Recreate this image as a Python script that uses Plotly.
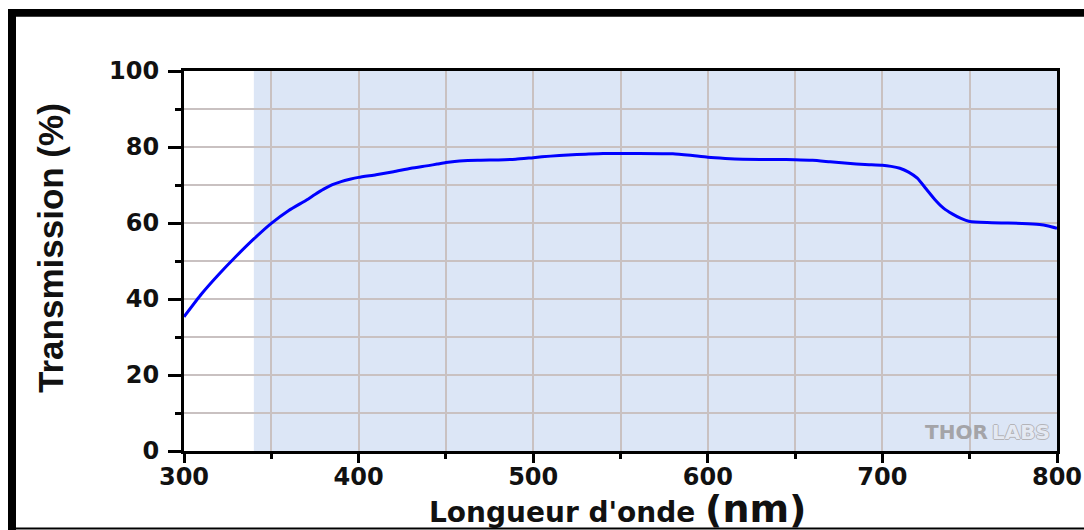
import plotly.graph_objects as go

# Transmission spectrum (wavelength in nm, transmission in %)
wavelength_nm = [300, 310, 320, 330, 340, 350, 360, 370, 375, 380, 385, 390, 395, 400, 410,
                 420, 430, 440, 445, 450, 455, 460, 470, 480, 490, 500, 510, 520, 530, 540,
                 560, 580, 590, 600, 610, 620, 640, 650, 660, 670, 680, 690, 700, 705, 710,
                 715, 720, 725, 730, 735, 740, 745, 750, 760, 770, 780, 790, 795, 800]
transmission_pct = [35.3, 41.3, 46.5, 51.3, 55.8, 59.9, 63.3, 66.0, 67.5, 68.9, 70.1, 70.9,
                    71.5, 72.0, 72.7, 73.5, 74.4, 75.1, 75.5, 75.9, 76.2, 76.4, 76.5, 76.6,
                    76.8, 77.2, 77.6, 77.9, 78.1, 78.3, 78.3, 78.2, 77.8, 77.3, 77.0, 76.8,
                    76.7, 76.65, 76.5, 76.1, 75.7, 75.4, 75.2, 74.9, 74.4, 73.4, 71.8, 69.0,
                    66.2, 63.9, 62.4, 61.2, 60.4, 60.1, 60.0, 59.9, 59.6, 59.2, 58.6]

# Design wavelength band (shaded)
band_nm = [340, 800]

x_ticks = [300, 400, 500, 600, 700, 800]
y_ticks = [0, 20, 40, 60, 80, 100]

W_FIG, H_FIG = 1084, 530
L, R, T, B = 184, 1057, 71, 451          # plot area in pixels


def px_x(p):
    return (p - L) / (R - L)


def px_y(p):
    return (B - p) / (B - T)


TICK_FONT = dict(family="DejaVu Sans", size=24, color="#111111", weight="bold")
GRID = "#c9c1c1"

fig = go.Figure()
fig.add_trace(go.Scatter(
    x=wavelength_nm, y=transmission_pct, mode="lines",
    line=dict(color="#0000ff", width=3, shape="spline", smoothing=0.5),
    hoverinfo="skip", showlegend=False,
))

shapes = [
    # shaded band
    dict(type="rect", xref="x", yref="y", x0=band_nm[0], x1=band_nm[1], y0=0, y1=100,
         fillcolor="#dce6f6", line=dict(width=0), layer="below"),
    # outer frame
    dict(type="rect", xref="paper", yref="paper", x0=px_x(8), x1=px_x(1095),
         y0=px_y(9), y1=px_y(16.7), fillcolor="black", line=dict(width=0)),
    dict(type="rect", xref="paper", yref="paper", x0=px_x(8), x1=px_x(16),
         y0=px_y(9), y1=px_y(540), fillcolor="black", line=dict(width=0)),
    dict(type="rect", xref="paper", yref="paper", x0=px_x(8), x1=px_x(1095),
         y0=px_y(527.5), y1=px_y(529.5), fillcolor="black", line=dict(width=0)),
]

annotations = [
    dict(text="Transmission (%)", xref="paper", yref="paper",
         x=px_x(50), y=px_y(248), textangle=-90, showarrow=False,
         xanchor="center", yanchor="middle",
         font=dict(family="Liberation Sans", size=35, color="#111111", weight="bold")),
    dict(text="Longueur d'onde <span style='font-size:38px'>(nm)</span>",
         xref="paper", yref="paper", x=px_x(617), y=px_y(533),
         showarrow=False, xanchor="center", yanchor="bottom",
         font=dict(family="DejaVu Sans", size=28, color="#111111", weight="bold")),
    dict(text="THOR", xref="paper", yref="paper", x=px_x(990), y=px_y(431.5),
         showarrow=False, xanchor="right", yanchor="middle",
         font=dict(family="DejaVu Sans", size=20, color="#a4a4a8", weight="bold")),
    dict(text="LABS", xref="paper", yref="paper", x=px_x(990), y=px_y(431.5),
         showarrow=False, xanchor="left", yanchor="middle",
         font=dict(family="DejaVu Sans", size=20, color="#e4e9f3", weight="bold",
                   shadow="1px 0 #b4b4b8, -1px 0 #b4b4b8, 0 1px #b4b4b8, 0 -1px #b4b4b8")),
]

fig.update_layout(
    width=W_FIG, height=H_FIG,
    margin=dict(l=L, r=W_FIG - R, t=T, b=H_FIG - B, pad=0, autoexpand=False),
    paper_bgcolor="white", plot_bgcolor="white",
    shapes=shapes, annotations=annotations,
    xaxis=dict(
        range=[300, 800], tickvals=x_ticks, ticktext=[str(v) for v in x_ticks],
        ticks="outside", ticklen=9, tickwidth=3, tickcolor="black",
        showline=True, linewidth=3, linecolor="black", mirror=True,
        showgrid=True, gridcolor=GRID, gridwidth=2, zeroline=False,
        minor=dict(dtick=50, ticks="outside", ticklen=5, tickwidth=3, tickcolor="black",
                   showgrid=True, gridcolor=GRID, gridwidth=2),
        tickfont=TICK_FONT, ticklabelstandoff=-7, automargin=False,
    ),
    yaxis=dict(
        range=[0, 100], tickvals=y_ticks, ticktext=[str(v) for v in y_ticks],
        ticks="outside", ticklen=13, tickwidth=3, tickcolor="black",
        showline=True, linewidth=3, linecolor="black", mirror=True,
        showgrid=True, gridcolor=GRID, gridwidth=2, zeroline=False,
        minor=dict(dtick=10, ticks="outside", ticklen=6, tickwidth=3, tickcolor="black",
                   showgrid=True, gridcolor=GRID, gridwidth=2),
        tickfont=TICK_FONT, ticklabelstandoff=4, automargin=False,
    ),
)

fig.write_html("out.html")
